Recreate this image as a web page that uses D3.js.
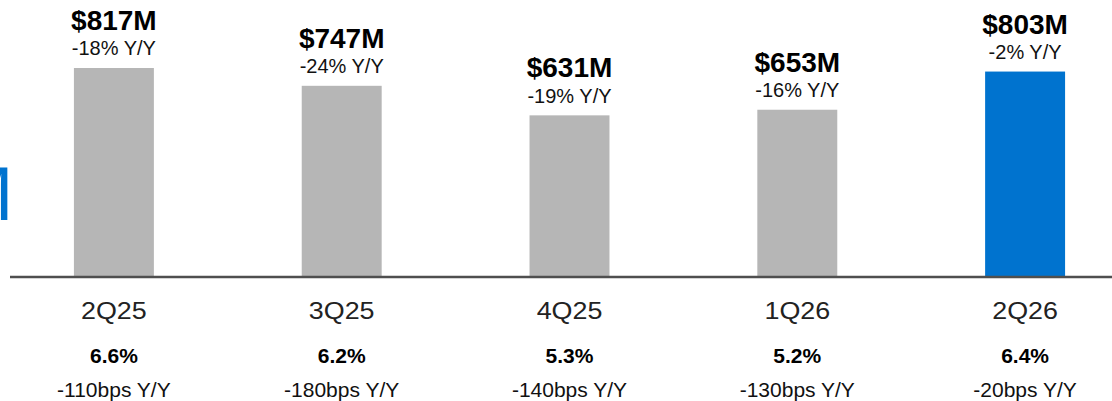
<!DOCTYPE html>
<html>
<head>
<meta charset="utf-8">
<script src="https://cdn.jsdelivr.net/npm/d3@7"></script>
<style>
  html, body { margin: 0; padding: 0; background: #fff; }
  svg { display: block; font-family: "Liberation Sans", Arial, sans-serif; }
</style>
</head>
<body>
<div id="chart"></div>
<script>
"use strict";
// quarter data
const quarters = ["2Q25", "3Q25", "4Q25", "1Q26", "2Q26"];
const revenue = [817, 747, 631, 653, 803];
const revenueYoY = ["-18% Y/Y", "-24% Y/Y", "-19% Y/Y", "-16% Y/Y", "-2% Y/Y"];
const margin = ["6.6%", "6.2%", "5.3%", "5.2%", "6.4%"];
const marginYoY = ["-110bps Y/Y", "-180bps Y/Y", "-140bps Y/Y", "-130bps Y/Y", "-20bps Y/Y"];

const width = 1112, height = 401;
const baseY = 276;

function drawChart(containerId) {
    const svg = d3.select(`#${containerId}`)
        .append("svg")
        .attr("width", width)
        .attr("height", height);

    const x = d3.scaleBand()
        .domain(quarters)
        .range([0, 1139])
        .paddingInner(0.649)
        .paddingOuter(0.3245);

    const y = d3.scaleLinear()
        .domain([0, 1000])
        .range([baseY, 21.4]);

    // cut-off letter at the left edge (part of a title off the slide)
    svg.append("text")
        .attr("x", 13.6)
        .attr("y", 220)
        .attr("text-anchor", "end")
        .attr("font-size", 76)
        .attr("fill", "#0073cf")
        .text("M");

    // bars
    svg.selectAll("rect.bar")
        .data(quarters)
        .enter()
        .append("rect")
        .attr("class", "bar")
        .attr("x", d => x(d))
        .attr("y", (d, i) => y(revenue[i]))
        .attr("width", x.bandwidth())
        .attr("height", (d, i) => baseY - y(revenue[i]))
        .attr("fill", (d, i) => i === quarters.length - 1 ? "#0073cf" : "#b6b6b6");

    // baseline
    svg.append("line")
        .attr("x1", 10)
        .attr("x2", width)
        .attr("y1", baseY + 1)
        .attr("y2", baseY + 1)
        .attr("stroke", "#4f4f4f")
        .attr("stroke-width", 2.5);

    const cx = d => x(d) + x.bandwidth() / 2;

    // value labels above bars
    svg.selectAll("text.value")
        .data(quarters)
        .enter()
        .append("text")
        .attr("class", "value")
        .attr("x", cx)
        .attr("y", (d, i) => y(revenue[i]) - 38)
        .attr("text-anchor", "middle")
        .attr("font-size", 28)
        .attr("font-weight", "bold")
        .attr("fill", "#000")
        .text((d, i) => `$${revenue[i]}M`);

    svg.selectAll("text.yoy")
        .data(quarters)
        .enter()
        .append("text")
        .attr("class", "yoy")
        .attr("x", cx)
        .attr("y", (d, i) => y(revenue[i]) - 12.5)
        .attr("text-anchor", "middle")
        .attr("font-size", 20)
        .attr("fill", "#111")
        .text((d, i) => revenueYoY[i]);

    // category labels (slightly stretched like the slide)
    svg.selectAll("text.cat")
        .data(quarters)
        .enter()
        .append("text")
        .attr("class", "cat")
        .attr("transform", d => `translate(${cx(d)},319) scale(1.12,1)`)
        .attr("text-anchor", "middle")
        .attr("font-size", 24)
        .attr("fill", "#222")
        .text(d => d);

    svg.selectAll("text.margin")
        .data(quarters)
        .enter()
        .append("text")
        .attr("class", "margin")
        .attr("x", cx)
        .attr("y", 363)
        .attr("text-anchor", "middle")
        .attr("font-size", 21)
        .attr("font-weight", "bold")
        .attr("fill", "#000")
        .text((d, i) => margin[i]);

    svg.selectAll("text.bps")
        .data(quarters)
        .enter()
        .append("text")
        .attr("class", "bps")
        .attr("x", cx)
        .attr("y", 397)
        .attr("text-anchor", "middle")
        .attr("font-size", 21)
        .attr("fill", "#111")
        .text((d, i) => marginYoY[i]);
}

document.addEventListener("DOMContentLoaded", () => drawChart("chart"));
</script>
</body>
</html>
